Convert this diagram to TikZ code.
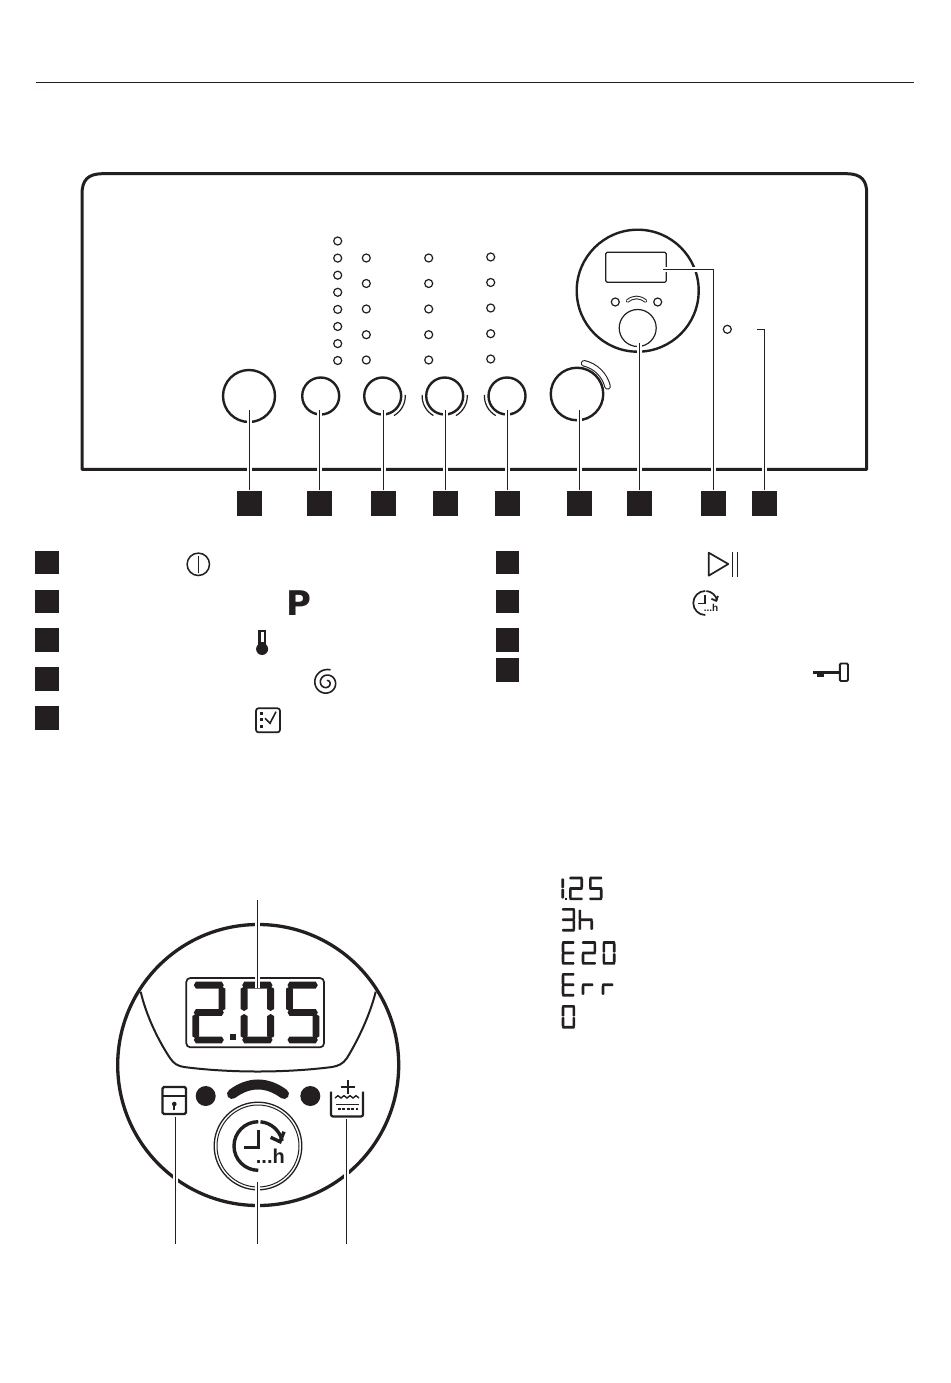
\documentclass[tikz,border=0pt]{standalone}
\usepackage{fontspec}
\setmainfont{Liberation Sans}
\newfontfamily\heavyfont{DejaVu Sans}
\definecolor{ink}{HTML}{231F20}
\tikzset{
  leader/.style={draw=ink,line width=1pt,preaction={draw=white,line width=5pt}},
  keybox/.style={rectangle,fill=ink,inner sep=0pt,minimum size=25pt},
  legbox/.style={rectangle,fill=ink,inner sep=0pt,minimum size=23.5pt},
  knob/.style={circle,draw=ink,fill=white,line width=2.4pt,inner sep=0pt,minimum size=37pt},
  bigknob/.style={knob,minimum size=52pt},
  led/.style={circle,draw=ink,line width=1.2pt,inner sep=0pt,minimum size=8pt},
  thinarc/.style={draw=ink,line width=1.2pt},
  icon/.style={draw=ink,line width=1.7pt,line join=round,line cap=round},
}
\def\gapfac{0.22}
\newcommand\hsg[3]{\fill[ink] (#1,#3) -- ({#1+\tI},{#3-\tH}) -- ({#2-\tI},{#3-\tH}) -- (#2,#3) -- ({#2-\tI},{#3+\tH}) -- ({#1+\tI},{#3+\tH}) -- cycle;}
\newcommand\vsg[3]{\fill[ink] (#3,#1) -- ({#3-\tH},{#1+\tI}) -- ({#3-\tH},{#2-\tI}) -- (#3,#2) -- ({#3+\tH},{#2-\tI}) -- ({#3+\tH},{#1+\tI}) -- cycle;}
\def\sga{\hsg{\dL}{\dR}{\dYa}}
\def\sgg{\hsg{\dL}{\dR}{\dYg}}
\def\sgd{\hsg{\dL}{\dR}{\dYd}}
\def\sgf{\vsg{\dTa}{\dTb}{\dXl}}
\def\sge{\vsg{\dBa}{\dBb}{\dXl}}
\def\sgb{\vsg{\dTa}{\dTb}{\dXr}}
\def\sgc{\vsg{\dBa}{\dBb}{\dXr}}
% x, y, width, height, thickness, segments
\newcommand\sevseg[6]{%
  \pgfmathsetmacro\tH{#5/2}\pgfmathsetmacro\tI{#5*0.3}\pgfmathsetmacro\gG{#5*\gapfac}%
  \pgfmathsetmacro\dL{#1+\gG}\pgfmathsetmacro\dR{#1+#3-\gG}%
  \pgfmathsetmacro\dYa{#2+\tH}\pgfmathsetmacro\dYg{#2+#4/2}\pgfmathsetmacro\dYd{#2+#4-\tH}%
  \pgfmathsetmacro\dXl{#1+\tH}\pgfmathsetmacro\dXr{#1+#3-\tH}%
  \pgfmathsetmacro\dTa{#2+\tH+\gG}\pgfmathsetmacro\dTb{#2+#4/2-\gG}%
  \pgfmathsetmacro\dBa{#2+#4/2+\gG}\pgfmathsetmacro\dBb{#2+#4-\tH-\gG}%
  \foreach \s in {#6}{\csname sg\s\endcsname}}
% cx, cy, scale, line width, font size, name
\newcommand\clockicon[6]{%
  \begin{scope}[shift={(#1,#2)},scale=#3]
    \draw[draw=ink,line width=#4] (0,-24.3) arc[start angle=-90,end angle=-270,radius=24.3];
    \draw[draw=ink,line width=#4] (2.2,-24.2) arc[start angle=-85,end angle=-12,radius=24.3];
    \draw[draw=ink,line width=#4,line join=miter] (12.3,-8.7) -- (21.7,-4.3) -- (25.7,-14.3);
    \draw[draw=ink,line width=#4,line join=miter] (0,-16) -- (0,1.3) -- (-14.3,1.3);
    \node[anchor=base east,inner sep=0pt,text=ink,font=\fontsize{#5}{#5}\selectfont\bfseries] (#6) at (26.7,17.3) {...h};
  \end{scope}}
\begin{document}
\begin{tikzpicture}[x=1pt,y=1pt,yscale=-1]
\fill[white] (0,0) rectangle (950,1383);
\useasboundingbox (0,0) rectangle (950,1383);
% header rule
\draw[draw=ink,line width=1pt] (36,82.5) -- (914,82.5);
% panel
\draw[draw=ink,line width=3pt,line join=round] (82,469.3) -- (82,194) .. controls (82,180) and (88,174) .. (102,173.7) -- (847,173.7) .. controls (861,174) and (867,180) .. (866.7,194) -- (866.7,469.3) -- cycle;
% LEDs
\foreach \i/\y in {1/241,2/258.1,3/275.2,4/292.3,5/309.4,6/326.5,7/343.6,8/360.5}
  \node[led] (la\i) at (337.7,\y) {};
\foreach \i/\y in {1/258,2/283.5,3/309,4/334.7,5/360}{
  \node[led] (lb\i) at (366.3,\y) {};
  \node[led] (lc\i) at (428.7,\y) {};
  \node[led] (ld\i) at (490.7,\y-1) {};
}
\node[led] (lkey) at (727.3,329.3) {};
% rings beside knobs
\draw[thinarc] (382.7,396) ++(60:22.6) arc[start angle=60,end angle=-3,radius=22.6];
\draw[thinarc] (444.7,396) ++(60:22.6) arc[start angle=60,end angle=-3,radius=22.6];
\draw[thinarc] (444.7,396) ++(120:22.6) arc[start angle=120,end angle=183,radius=22.6];
\draw[thinarc] (507,396) ++(120:22.6) arc[start angle=120,end angle=183,radius=22.6];
% pill at program knob
\draw[draw=ink,line width=6.6pt,line cap=round] (577,394) ++(-77:31.5) arc[start angle=-77,end angle=-14,radius=31.5];
\draw[draw=white,line width=4.4pt,line cap=round] (577,394) ++(-77:31.5) arc[start angle=-77,end angle=-14,radius=31.5];
% knobs
\node[bigknob] (k1) at (249,396) {};
\node[knob] (k2) at (320.7,396) {};
\node[knob] (k3) at (382.7,396) {};
\node[knob] (k4) at (444.7,396) {};
\node[knob] (k5) at (507,396) {};
\node[bigknob,minimum size=52.5pt] (k6) at (577,394) {};
% small display unit
\node[circle,draw=ink,line width=2.4pt,inner sep=0pt,minimum size=122pt] (unit) at (637.7,290.7) {};
\node[rectangle,draw=ink,line width=1.2pt,rounded corners=1.5pt,inner sep=0pt,minimum width=60.6pt,minimum height=30pt] (disp) at (636,267.3) {};
\node[led] (u1) at (615.3,302) {};
\node[led] (u2) at (657.7,302) {};
\draw[draw=ink,line width=3.6pt,line cap=round] (627.5,301) .. controls (633.5,296.3) and (639.5,296.3) .. (645.5,301);
\draw[draw=white,line width=1.6pt,line cap=round] (627.5,301) .. controls (633.5,296.3) and (639.5,296.3) .. (645.5,301);
\node[circle,draw=ink,line width=1.2pt,inner sep=0pt,minimum size=37pt] (k7) at (637.7,328) {};
% key squares
\foreach \i/\x in {1/249.3,2/319.7,3/383.3,4/445.7,5/507.7,6/579.3,7/639.3,8/713.3,9/764.3}
  \node[keybox] (s\i) at (\x,503) {};
% leader ends
\coordinate (e1) at (249.3,410);
\coordinate (e2) at (319.7,410);
\coordinate (e3) at (383.3,410);
\coordinate (e4) at (445.7,410);
\coordinate (e5) at (507.7,410);
\coordinate (e6) at (579.3,410);
\coordinate (e7) at (639.3,343);
\coordinate (e8) at (662.7,269);
\coordinate (e9) at (757.3,329);
\foreach \i in {1,...,7}
  \draw[leader] (s\i) -- (e\i);
\draw[leader] (s8.north) |- (e8);
\draw[leader] (s9.north) |- (e9);
\foreach \i/\x in {1/249.3,2/319.7,3/383.3,4/445.7,5/507.7,6/579.3,7/639.3,8/713.3,9/764.3}
  \node[keybox] (t\i) at (\x,503) {};
% legend squares
\foreach \i/\y in {1/562.3,2/601.3,3/640,4/679,5/718}
  \node[legbox] (ll\i) at (47,\y) {};
\foreach \i/\y in {1/562.3,2/601.3,3/640,4/670}
  \node[legbox] (lr\i) at (507.7,\y) {};
% power icon
\draw[draw=ink,line width=1.5pt] (198.3,564.3) circle[radius=11.2];
\draw[draw=ink,line width=1.1pt] (198.3,555.5) -- (198.3,572.5);
% P
\node[inner sep=0pt,text=ink,anchor=base,font=\heavyfont\bfseries\fontsize{34}{34}\selectfont] (progp) at (299,615.5) {P};
% thermometer
\fill[ink] (257.9,630) rectangle (266.3,648);
\fill[ink] (262.1,649) circle[radius=6];
\fill[white] (260.6,631.8) rectangle (263.7,641.5);
% spiral
\draw[draw=ink,line width=1.6pt,line cap=round] plot[domain=75:790,samples=90,smooth] ({326.6+(13.4-0.0155*(\x-75))*cos(\x)},{682.7-(13.4-0.0155*(\x-75))*sin(\x)});
% check list
\draw[draw=ink,line width=1.7pt,rounded corners=2.5pt] (256,708.3) rectangle (280,732.3);
\fill[ink] (260,712.3) rectangle (263,715.3);
\fill[ink] (260,718.3) rectangle (263,721.3);
\fill[ink] (260,724.8) rectangle (263,727.8);
\draw[draw=ink,line width=1.6pt] (265,718.3) -- (270,723.3) -- (276,711.7);
% play pause
\draw[icon] (708.7,552.7) -- (708.7,575.7) -- (728.3,564) -- cycle;
\draw[draw=ink,line width=1.3pt] (732.3,552) -- (732.3,576.5);
\draw[draw=ink,line width=1.3pt] (737.7,552) -- (737.7,576.5);
% small clock
\clockicon{705.3}{603}{0.495}{1.7pt}{10}{hsmall}
% key
\draw[draw=ink,line width=2.4pt] (813.3,672.3) -- (839.3,672.3);
\fill[ink] (817,672) rectangle (823.5,677);
\draw[draw=ink,line width=1.9pt,rounded corners=1.2pt] (839.8,663.5) rectangle (848,681);
% === detail of the display unit ===
\draw[draw=ink,line width=3.3pt] (258.2,1065) circle[radius=140.5];
\draw[draw=ink,line width=2pt] (140.7,991.7) .. controls (146,1015) and (158,1040) .. (170,1058) .. controls (174,1064) and (178,1066) .. (184,1067) .. controls (230,1073) and (285,1073) .. (332,1067) .. controls (338,1066) and (343,1064) .. (347,1058) .. controls (358,1040) and (370,1015) .. (375.7,991.7);
\draw[draw=ink,line width=1.7pt,rounded corners=4pt] (186.3,978) rectangle (324,1047.3);
\sevseg{192.3}{981.7}{33}{61.6}{6.8}{a,b,g,e,d}
\fill[ink] (230.3,1034) rectangle (236.3,1040);
\sevseg{240.7}{981.7}{33.3}{61.6}{6.8}{a,b,c,d,e,f}
\sevseg{286}{981.7}{33.3}{61.6}{6.8}{a,f,g,c,d}
% indicators
\node[circle,fill=ink,inner sep=0pt,minimum size=20pt] (dotl) at (205.7,1096) {};
\node[circle,fill=ink,inner sep=0pt,minimum size=20pt] (dotr) at (310.3,1096) {};
\draw[draw=ink,line width=10pt,line cap=round] (232,1094) .. controls (249,1081.3) and (267,1081.3) .. (284,1094);
% lock icon
\draw[draw=ink,line width=2.2pt,rounded corners=1.5pt] (162.5,1087) rectangle (186,1114);
\draw[draw=ink,line width=1.8pt] (162.5,1095.7) -- (186,1095.7);
\fill[ink] (174.3,1104) circle[radius=2.3];
\fill[ink] (173.3,1104) rectangle (175.3,1109.5);
% water icon
\draw[draw=ink,line width=2.2pt,line join=round,rounded corners=2pt] (331,1091.7) -- (331,1116.5) -- (363,1116.5) -- (363,1091.7);
\draw[draw=ink,line width=2pt] (347.7,1080) -- (347.7,1094);
\draw[draw=ink,line width=2pt] (340.5,1087) -- (355,1087);
\draw[draw=ink,line width=1.4pt] (335,1098) -- (338,1095.7) -- (341,1098) -- (344,1095.7) -- (347,1098) -- (350,1095.7) -- (353,1098) -- (356,1095.7) -- (359,1098);
\draw[draw=ink,line width=1.3pt] (336,1104.7) -- (358.5,1104.7);
\draw[draw=ink,line width=2.2pt,dash pattern=on 3pt off 1.6pt] (337.5,1108.8) -- (357.5,1108.8);
% clock knob
\node[circle,draw=ink,line width=1.3pt,inner sep=0pt,minimum size=87.6pt] (ring) at (258,1146) {};
\node[circle,draw=ink,line width=1pt,inner sep=0pt,minimum size=82pt] (ringin) at (258,1146) {};
\clockicon{258.3}{1146}{1}{3.4pt}{20}{hbig}
% detail leaders
\coordinate (dtop) at (257,900);
\coordinate (dend) at (257,988);
\draw[leader] (dtop) -- (dend);
\coordinate (lktop) at (175.3,1116.7);
\coordinate (lkfoot) at (175.3,1244);
\draw[leader] (lktop) -- (lkfoot);
\coordinate (cktop) at (257.3,1182.3);
\coordinate (ckfoot) at (257.3,1244);
\draw[leader] (cktop) -- (ckfoot);
\coordinate (wttop) at (346.3,1119.3);
\coordinate (wtfoot) at (346.3,1244);
\draw[leader] (wttop) -- (wtfoot);
% list of display readings
\def\gapfac{0.08}
\sevseg{558}{876.7}{6}{23.5}{2.7}{b,c}
\fill[ink] (564.6,897.5) rectangle (567,900);
\sevseg{569}{876.7}{14}{23.5}{2.7}{a,b,g,e,d}
\sevseg{589}{876.7}{13.5}{23.5}{2.7}{a,f,g,c,d}
\sevseg{561.7}{908}{13.5}{23.5}{2.7}{a,b,g,c,d}
\sevseg{578.5}{908}{14.5}{23.5}{2.7}{f,e,g,c}
\sevseg{561.7}{941.2}{13}{23.5}{2.7}{a,f,g,e,d}
\sevseg{581.7}{941.2}{14.5}{23.5}{2.7}{a,b,g,e,d}
\sevseg{602.5}{941.2}{13}{23.5}{2.7}{a,b,c,d,e,f}
\sevseg{561.7}{973}{13}{23.5}{2.7}{a,f,g,e,d}
\sevseg{581.7}{973}{12}{23.5}{2.7}{g,e}
\sevseg{601.7}{973}{12}{23.5}{2.7}{g,e}
\sevseg{561.7}{1005}{13.5}{23.5}{2.7}{a,b,c,d,e,f}
\end{tikzpicture}
\end{document}
